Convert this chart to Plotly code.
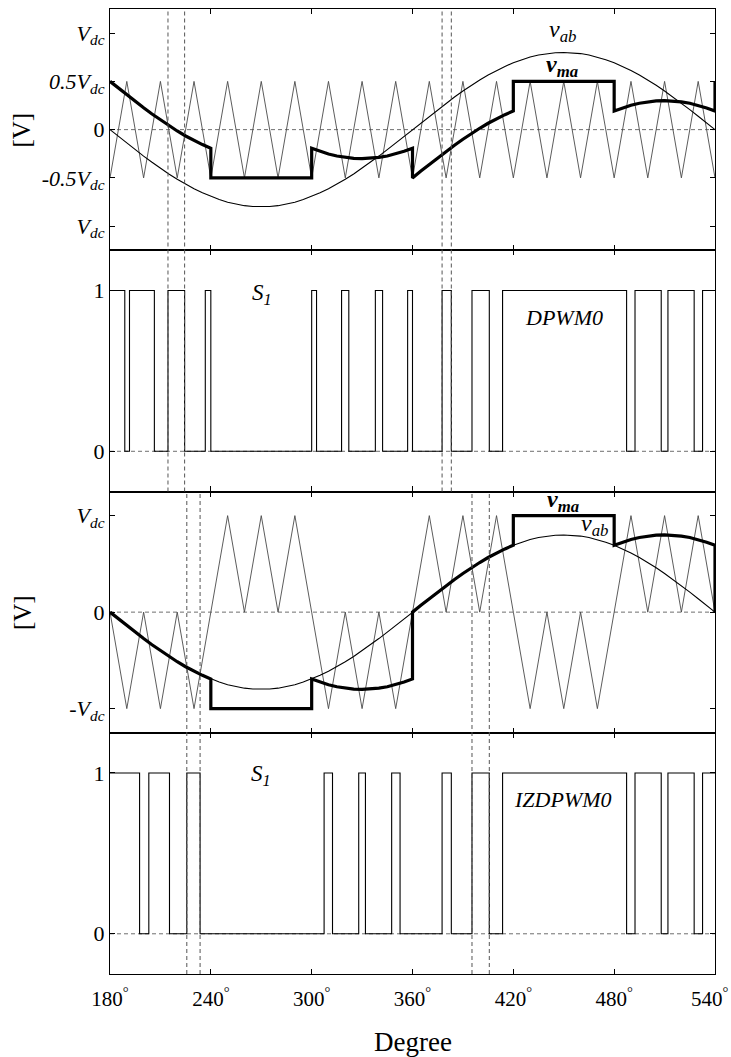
import plotly.graph_objects as go
from plotly.subplots import make_subplots

# ---------------------------------------------------------------- data
# electrical angle grid for the sinusoidal curves (degrees)
deg = list(range(180, 545, 5))

# line-to-line reference v_ab (per unit of Vdc)
vab = [0.0, -0.07, -0.139, -0.207, -0.274, -0.338, -0.4, -0.459, -0.514, -0.566, -0.613, -0.655,
       -0.693, -0.725, -0.752, -0.773, -0.788, -0.797, -0.8, -0.797, -0.788, -0.773, -0.752, -0.725,
       -0.693, -0.655, -0.613, -0.566, -0.514, -0.459, -0.4, -0.338, -0.274, -0.207, -0.139, -0.07,
       0.0, 0.07, 0.139, 0.207, 0.274, 0.338, 0.4, 0.459, 0.514, 0.566, 0.613, 0.655,
       0.693, 0.725, 0.752, 0.773, 0.788, 0.797, 0.8, 0.797, 0.788, 0.773, 0.752, 0.725,
       0.693, 0.655, 0.613, 0.566, 0.514, 0.459, 0.4, 0.338, 0.274, 0.207, 0.139, 0.07, 0.0]

# modulating signal v_ma, one 60-degree sector after another (13 samples each)
sector_deg = [a + s for a in range(180, 540, 60) for s in range(0, 65, 5)]

vma_dpwm0 = [0.5, 0.43, 0.361, 0.293, 0.226, 0.162, 0.1, 0.041, -0.014, -0.066, -0.113, -0.155, -0.193,
             -0.5, -0.5, -0.5, -0.5, -0.5, -0.5, -0.5, -0.5, -0.5, -0.5, -0.5, -0.5, -0.5,
             -0.193, -0.225, -0.252, -0.273, -0.288, -0.297, -0.3, -0.297, -0.288, -0.273, -0.252, -0.225, -0.193,
             -0.5, -0.43, -0.361, -0.293, -0.226, -0.162, -0.1, -0.041, 0.014, 0.066, 0.113, 0.155, 0.193,
             0.5, 0.5, 0.5, 0.5, 0.5, 0.5, 0.5, 0.5, 0.5, 0.5, 0.5, 0.5, 0.5,
             0.193, 0.225, 0.252, 0.273, 0.288, 0.297, 0.3, 0.297, 0.288, 0.273, 0.252, 0.225, 0.193]
vma_dpwm0_next = 0.5

vma_izdpwm0 = [0.0, -0.07, -0.139, -0.207, -0.274, -0.338, -0.4, -0.459, -0.514, -0.566, -0.613, -0.655, -0.693,
               -1.0, -1.0, -1.0, -1.0, -1.0, -1.0, -1.0, -1.0, -1.0, -1.0, -1.0, -1.0, -1.0,
               -0.693, -0.725, -0.752, -0.773, -0.788, -0.797, -0.8, -0.797, -0.788, -0.773, -0.752, -0.725, -0.693,
               0.0, 0.07, 0.139, 0.207, 0.274, 0.338, 0.4, 0.459, 0.514, 0.566, 0.613, 0.655, 0.693,
               1.0, 1.0, 1.0, 1.0, 1.0, 1.0, 1.0, 1.0, 1.0, 1.0, 1.0, 1.0, 1.0,
               0.693, 0.725, 0.752, 0.773, 0.788, 0.797, 0.8, 0.797, 0.788, 0.773, 0.752, 0.725, 0.693]
vma_izdpwm0_next = 0.0

# triangular carriers (vertices every 10 degrees)
carrier_deg = list(range(180, 550, 10))
carrier_dpwm0 = [-0.5, 0.5] * 18 + [-0.5]
carrier_izdpwm0 = [0, -1, 0, -1, 0, -1, 0, 1, 0, 1, 0, 1, 0, -1, 0, -1, 0, -1, 0,
                   1, 0, 1, 0, 1, 0, -1, 0, -1, 0, -1, 0, 1, 0, 1, 0, 1, 0]

# switching state S1: value at 180 deg and the angles where it toggles
s1_start = 1
s1_edges_dpwm0 = [188.8, 191.6, 206.4, 214.5, 224.4, 236.7, 240.0, 300.0, 302.9, 317.8, 322.1,
                  337.9, 342.2, 357.1, 360.0, 377.6, 383.1, 395.4, 405.7, 413.6, 487.4, 492.4,
                  508.0, 512.0, 527.6, 532.6]
s1_edges_izdpwm0 = [197.6, 203.1, 215.4, 225.7, 233.6, 307.4, 312.4, 328.0, 332.0, 347.6, 352.6,
                    377.6, 383.1, 395.4, 405.7, 413.6, 487.4, 492.4, 508.0, 512.0, 527.6, 532.6]

# pulse edges highlighted with vertical guides
marks_dpwm0 = [214.5, 224.4, 377.6, 383.1]
marks_izdpwm0 = [225.7, 233.6, 395.4, 405.7]

x_ticks = [180, 240, 300, 360, 420, 480, 540]
x_ticktext = ["180<sup>°</sup>", "240<sup>°</sup>", "300<sup>°</sup>", "360<sup>°</sup>",
              "420<sup>°</sup>", "480<sup>°</sup>", "540<sup>°</sup>\u00a0\u00a0"]

# ---------------------------------------------------------------- helpers
FONT = "Liberation Serif, Times New Roman, Times, serif"


def step_trace(start, edges):
    xs, ys = [180.0], [start]
    state = start
    for e in edges:
        state = 1 - state
        xs.append(e)
        ys.append(state)
    xs.append(540.0)
    ys.append(state)
    return xs, ys


fig = make_subplots(rows=4, cols=1, shared_xaxes=True, vertical_spacing=0)

thin = dict(color="#4a4a4a", width=0.9)

# panel 1: DPWM0 references
fig.add_trace(go.Scatter(x=carrier_deg, y=carrier_dpwm0, mode="lines", line=thin), row=1, col=1)
fig.add_trace(go.Scatter(x=deg, y=vab, mode="lines", line=dict(color="black", width=1.1)), row=1, col=1)
fig.add_trace(go.Scatter(x=sector_deg + [540], y=vma_dpwm0 + [vma_dpwm0_next], mode="lines",
                         line=dict(color="black", width=3.2)), row=1, col=1)

# panel 2: DPWM0 switching state
sx, sy = step_trace(s1_start, s1_edges_dpwm0)
fig.add_trace(go.Scatter(x=sx, y=sy, mode="lines", line=dict(color="black", width=1.1, shape="hv")),
              row=2, col=1)

# panel 3: IZDPWM0 references
fig.add_trace(go.Scatter(x=carrier_deg, y=carrier_izdpwm0, mode="lines", line=thin), row=3, col=1)
fig.add_trace(go.Scatter(x=deg, y=vab, mode="lines", line=dict(color="black", width=1.1)), row=3, col=1)
fig.add_trace(go.Scatter(x=sector_deg + [540], y=vma_izdpwm0 + [vma_izdpwm0_next], mode="lines",
                         line=dict(color="black", width=3.2)), row=3, col=1)

# panel 4: IZDPWM0 switching state
sx, sy = step_trace(s1_start, s1_edges_izdpwm0)
fig.add_trace(go.Scatter(x=sx, y=sy, mode="lines", line=dict(color="black", width=1.1, shape="hv")),
              row=4, col=1)

# dashed zero references
dash = "4px,3px"
for r in range(1, 5):
    yref = "y" if r == 1 else f"y{r}"
    fig.add_shape(type="line", xref="x", yref=yref, x0=180, x1=540, y0=0, y1=0,
                  line=dict(color="#6e6e6e", width=1, dash=dash), layer="below")

# vertical guides through the reference and switching panels
for m in marks_dpwm0:
    fig.add_shape(type="line", xref="x", yref="paper", x0=m, x1=m, y0=0.5, y1=1.0,
                  line=dict(color="#555555", width=1, dash=dash))
for m in marks_izdpwm0:
    fig.add_shape(type="line", xref="x", yref="paper", x0=m, x1=m, y0=0.0, y1=0.5,
                  line=dict(color="#555555", width=1, dash=dash))

# ---------------------------------------------------------------- axes
vdc = "<i>V</i><sub><i>dc</i></sub>"
y_setup = {
    1: dict(range=[-1.25, 1.25], tickvals=[1, 0.5, 0, -0.5, -1],
            ticktext=[vdc, "<i>0.5V</i><sub><i>dc</i></sub>", "0", "<i>-0.5V</i><sub><i>dc</i></sub>", vdc]),
    2: dict(range=[-0.25, 1.25], tickvals=[0, 1], ticktext=["0", "1"]),
    3: dict(range=[-1.25, 1.25], tickvals=[1, 0, -1], ticktext=[vdc, "0", "-" + vdc]),
    4: dict(range=[-0.25, 1.25], tickvals=[0, 1], ticktext=["0", "1"]),
}
for r in range(1, 5):
    fig.update_xaxes(range=[180, 540], showline=True, linecolor="black", linewidth=1.1, mirror="ticks",
                     ticks="inside", ticklen=5, tickwidth=1, tickcolor="black", tickvals=x_ticks,
                     showgrid=False, zeroline=False, automargin=False, row=r, col=1)
    fig.update_yaxes(showline=True, linecolor="black", linewidth=1.1, mirror="ticks",
                     ticks="inside", ticklen=5, tickwidth=1, tickcolor="black", automargin=False,
                     showgrid=False, zeroline=False, tickfont=dict(family=FONT, size=22, color="black"),
                     row=r, col=1, **y_setup[r])

fig.update_xaxes(row=4, col=1, showticklabels=True, ticktext=x_ticktext, ticklabeloverflow="allow",
                 tickfont=dict(family=FONT, size=21, color="black"), ticklabelstandoff=6)

# ---------------------------------------------------------------- labels
ann = []


def label(text, x, y, yref, size=22, **kw):
    ann.append(dict(text=text, x=x, y=y, xref="x", yref=yref, showarrow=False,
                    font=dict(family=FONT, size=size, color="black"), **kw))


label("<i>v</i><sub><i>ab</i></sub>", 449, 1.02, "y", size=24)
label("<b><i>v</i><sub><i>ma</i></sub></b>", 449, 0.66, "y", size=24)
label("<i>S</i><sub><i>1</i></sub>", 270.7, 0.98, "y2", size=23)
label("<i>DPWM0</i>", 450.4, 0.83, "y2")
label("<b><i>v</i><sub><i>ma</i></sub></b>", 449.3, 1.15, "y3", size=24)
label("<i>v</i><sub><i>ab</i></sub>", 468.3, 0.9, "y3", size=24)
label("<i>S</i><sub><i>1</i></sub>", 269.6, 0.986, "y4", size=23)
label("<i>IZDPWM0</i>", 449.3, 0.837, "y4")

for yref in ("y", "y3"):
    ann.append(dict(text="[V]", x=-0.1455, y=0, xref="paper", yref=yref, showarrow=False,
                    xanchor="center", yanchor="middle", textangle=-90,
                    font=dict(family=FONT, size=25, color="black")))
ann.append(dict(text="Degree", x=0.5, y=-0.0705, xref="paper", yref="paper", showarrow=False,
                xanchor="center", yanchor="middle", font=dict(family=FONT, size=27, color="black")))

fig.update_layout(
    width=731, height=1057,
    margin=dict(l=110, r=16, t=9, b=83, autoexpand=False),
    paper_bgcolor="white", plot_bgcolor="white",
    showlegend=False,
    annotations=ann,
    font=dict(family=FONT, color="black"),
)

fig.write_html("out.html")
